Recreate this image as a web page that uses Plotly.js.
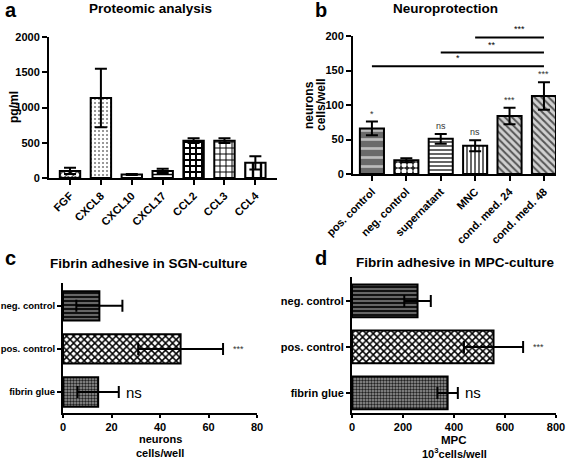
<!DOCTYPE html>
<html>
<head>
<meta charset="utf-8">
<script src="https://cdn.plot.ly/plotly-3.0.1.min.js"></script>
<style>html,body{margin:0;padding:0;background:#fff;}#chart{width:567px;height:460px;}</style>
</head>
<body>
<div id="chart"></div>
<script>
// Panel a: Proteomic analysis
const catsA = ['FGF','CXCL8','CXCL10','CXCL17','CCL2','CCL3','CCL4'];
const valsA = [100, 1135, 50, 100, 530, 530, 215];
const errA  = [45, 415, 6, 30, 35, 35, 95];

// Panel b: Neuroprotection
const catsB = ['pos. control','neg. control','supernatant','MNC','cond. med. 24','cond. med. 48'];
const valsB = [66, 20, 51, 41, 84, 113];
const errB  = [10, 3, 7, 8, 12, 20];
const sigB  = ['*', '', 'ns', 'ns', '***', '***'];
const sigLineFrom  = ['MNC', 'supernatant', 'pos. control'];
const sigLineTo    = ['cond. med. 48', 'cond. med. 48', 'cond. med. 48'];
const sigLineY     = [198, 176, 156];
const sigLineLabel = ['***', '**', '*'];

// Panel c: Fibrin adhesive in SGN-culture
const catsC = ['neg. control','pos. control','fibrin glue'];
const valsC = [15, 48.5, 14.5];
const errC  = [9.5, 17.5, 8.5];
const sigC  = ['', '***', 'ns'];

// Panel d: Fibrin adhesive in MPC-culture
const catsD = ['neg. control','pos. control','fibrin glue'];
const valsD = [257, 555, 375];
const errD  = [52, 116, 40];
const sigD  = ['', '***', 'ns'];

const FONT = 'Liberation Sans, Arial, sans-serif';
const W = 567, H = 460;
const px = v => v / W;
const py = v => 1 - v / H;

const patA = [
  {shape:'x', fgcolor:'#000', bgcolor:'#fff', size:5, solidity:0.35},
  {shape:'.', fgcolor:'#777', bgcolor:'#fff', size:4, solidity:0.2},
  {shape:'-', fgcolor:'#000', bgcolor:'#fff', size:6, solidity:0.3},
  {shape:'-', fgcolor:'#000', bgcolor:'#fff', size:5, solidity:0.3},
  {shape:'+', fgcolor:'#000', bgcolor:'#fff', size:6, solidity:0.55},
  {shape:'+', fgcolor:'#000', bgcolor:'#fff', size:6, solidity:0.3},
  {shape:'|', fgcolor:'#000', bgcolor:'#fff', size:8, solidity:0.3}
];
const patB = [
  {shape:'-', fgcolor:'#bbb', bgcolor:'#6a6a6a', size:9, solidity:0.3},
  {shape:'.', fgcolor:'#fff', bgcolor:'#222', size:6, solidity:0.55},
  {shape:'-', fgcolor:'#000', bgcolor:'#fff', size:4, solidity:0.3},
  {shape:'|', fgcolor:'#000', bgcolor:'#fff', size:4, solidity:0.3},
  {shape:'\\', fgcolor:'#555', bgcolor:'#d0d0d0', size:5, solidity:0.4},
  {shape:'\\', fgcolor:'#555', bgcolor:'#d0d0d0', size:5, solidity:0.4}
];
const patCD = [
  {shape:'-', fgcolor:'#111', bgcolor:'#666', size:4, solidity:0.5},
  {shape:'x', fgcolor:'#000', bgcolor:'#fff', size:5, solidity:0.5},
  {shape:'.', fgcolor:'#222', bgcolor:'#999', size:3, solidity:0.5}
];

function patt(pats) {
  return {
    shape:pats.map(p=>p.shape), fgcolor:pats.map(p=>p.fgcolor),
    bgcolor:pats.map(p=>p.bgcolor), size:pats.map(p=>p.size),
    solidity:pats.map(p=>p.solidity), fillmode:'replace'
  };
}
function vbar(x, y, e, pats, xa, ya, width) {
  return {
    type:'bar', x:x, y:y, xaxis:xa, yaxis:ya, width:width,
    marker:{color:'#fff', line:{color:'#000', width:2}, pattern:patt(pats)},
    error_y:{type:'data', array:e, visible:true, color:'#000', thickness:2, width:6},
    hoverinfo:'skip', showlegend:false
  };
}
function hbar(x, y, e, pats, xa, ya, width) {
  return {
    type:'bar', orientation:'h', x:x, y:y, xaxis:xa, yaxis:ya, width:width,
    marker:{color:'#fff', line:{color:'#000', width:2}, pattern:patt(pats)},
    error_x:{type:'data', array:e, visible:true, color:'#000', thickness:2, width:6},
    hoverinfo:'skip', showlegend:false
  };
}

const data = [
  vbar(catsA, valsA, errA, patA, 'x', 'y', 0.66),
  vbar(catsB, valsB, errB, patB, 'x2', 'y2', 0.7),
  hbar(valsC, catsC, errC, patCD, 'x3', 'y3', 0.68),
  hbar(valsD, catsD, errD, patCD, 'x4', 'y4', 0.71)
];

const tickFont = {family:FONT, size:11, color:'#000', weight:'bold'};
const axBase = {
  showline:true, linecolor:'#000', linewidth:2, ticks:'outside', ticklen:5,
  tickwidth:2, tickcolor:'#000', showgrid:false, zeroline:false,
  tickfont:tickFont, fixedrange:true, automargin:false
};

const layout = {
  width:W, height:H, margin:{l:0, r:0, t:0, b:0},
  paper_bgcolor:'#fff', plot_bgcolor:'rgba(0,0,0,0)',
  font:{family:FONT, color:'#000'},
  xaxis: Object.assign({}, axBase, {domain:[px(49), px(277)], anchor:'y', type:'category',
    range:[-0.68, 6.7], tickangle:-45}),
  yaxis: Object.assign({}, axBase, {domain:[py(178), py(37)], anchor:'x', range:[0, 2000],
    tickvals:[0,500,1000,1500,2000]}),
  xaxis2: Object.assign({}, axBase, {domain:[px(353), px(556)], anchor:'y2', type:'category',
    range:[-0.55, 5.35], tickangle:-45}),
  yaxis2: Object.assign({}, axBase, {domain:[py(174), py(36)], anchor:'x2', range:[0, 200],
    tickvals:[0,50,100,150,200]}),
  xaxis3: Object.assign({}, axBase, {domain:[px(63), px(257)], anchor:'y3', range:[0, 80],
    tickvals:[0,20,40,60,80], ticklen:3}),
  yaxis3: Object.assign({}, axBase, {domain:[py(412.7), py(283)], anchor:'x3', type:'category',
    categoryorder:'array', categoryarray:catsC.slice().reverse(), range:[-0.48, 2.53],
    tickfont:Object.assign({}, tickFont, {size:9.5}), ticklen:4}),
  xaxis4: Object.assign({}, axBase, {domain:[px(352), px(556)], anchor:'y4', range:[0, 800],
    tickvals:[0,200,400,600,800], ticklen:3}),
  yaxis4: Object.assign({}, axBase, {domain:[py(412.7), py(277)], anchor:'x4', type:'category',
    categoryorder:'array', categoryarray:catsD.slice().reverse(), range:[-0.43, 2.52], ticklen:4}),
  shapes:[], annotations:[]
};

// Panel letters and titles
const letters = [['a',3,10],['b',313,10],['c',3,258],['d',313,258]];
letters.forEach(l => layout.annotations.push({
  text:l[0], xref:'paper', yref:'paper', x:px(l[1]), y:py(l[2]), xanchor:'left', yanchor:'middle',
  showarrow:false, font:{family:FONT, size:20, weight:'bold', color:'#000'}
}));
const titles = [['Proteomic analysis',150,8],['Neuroprotection',445,8],
  ['Fibrin adhesive in SGN-culture',149,263],['Fibrin adhesive in MPC-culture',455,262]];
titles.forEach(t => layout.annotations.push({
  text:t[0], xref:'paper', yref:'paper', x:px(t[1]), y:py(t[2]), xanchor:'center', yanchor:'middle',
  showarrow:false, font:{family:FONT, size:13.5, weight:'bold', color:'#000'}
}));

// Axis titles (one annotation per line)
const axTitles = [
  ['pg/ml', 14, 107, -90, 12],
  ['neurons', 309, 105, -90, 12],
  ['cells/well', 321, 105, -90, 12],
  ['neurons', 160, 439, 0, 11],
  ['cells/well', 160, 452.5, 0, 11],
  ['MPC', 454, 440, 0, 11.5],
  ['10<sup>3</sup>cells/well', 454, 453, 0, 11]
];
axTitles.forEach(t => layout.annotations.push({
  text:t[0], xref:'paper', yref:'paper', x:px(t[1]), y:py(t[2]), xanchor:'center', yanchor:'middle',
  textangle:t[3], showarrow:false, borderpad:0,
  font:{family:FONT, size:t[4], weight:'bold', color:'#000'}
}));

// Panel b significance markers above bars
catsB.forEach((c, i) => {
  if (!sigB[i]) return;
  layout.annotations.push({
    text:sigB[i], xref:'x2', yref:'y2', x:i, y:valsB[i] + errB[i], yanchor:'bottom',
    yshift:1, showarrow:false, font:{family:FONT, size:9, color:'#333'}
  });
});
// Panel b comparison lines
sigLineY.forEach((yv, k) => {
  const i0 = catsB.indexOf(sigLineFrom[k]);
  const i1 = catsB.indexOf(sigLineTo[k]);
  layout.shapes.push({type:'line', xref:'x2', yref:'y2', x0:i0, x1:i1, y0:yv, y1:yv,
    line:{color:'#000', width:2}});
  layout.annotations.push({
    text:sigLineLabel[k], xref:'x2', yref:'y2', x:(i0 + i1) / 2 + (k === 0 ? 0.3 : 0), y:yv,
    yanchor:'bottom', yshift:1, showarrow:false, font:{family:FONT, size:9, color:'#000'}
  });
});
// Panels c, d significance
[[catsC, valsC, errC, sigC, 'x3', 'y3'], [catsD, valsD, errD, sigD, 'x4', 'y4']].forEach(p => {
  p[0].forEach((c, i) => {
    if (!p[3][i]) return;
    const big = p[3][i] === 'ns';
    layout.annotations.push({
      text:p[3][i], xref:p[4], yref:p[5], x:p[1][i] + p[2][i], y:c, xanchor:'left',
      xshift:big ? 5 : 8, showarrow:false,
      font:{family:FONT, size:big ? 15 : 9, color:big ? '#000' : '#333'}
    });
  });
});

Plotly.newPlot('chart', data, layout, {staticPlot:true, displayModeBar:false});
</script>
</body>
</html>
